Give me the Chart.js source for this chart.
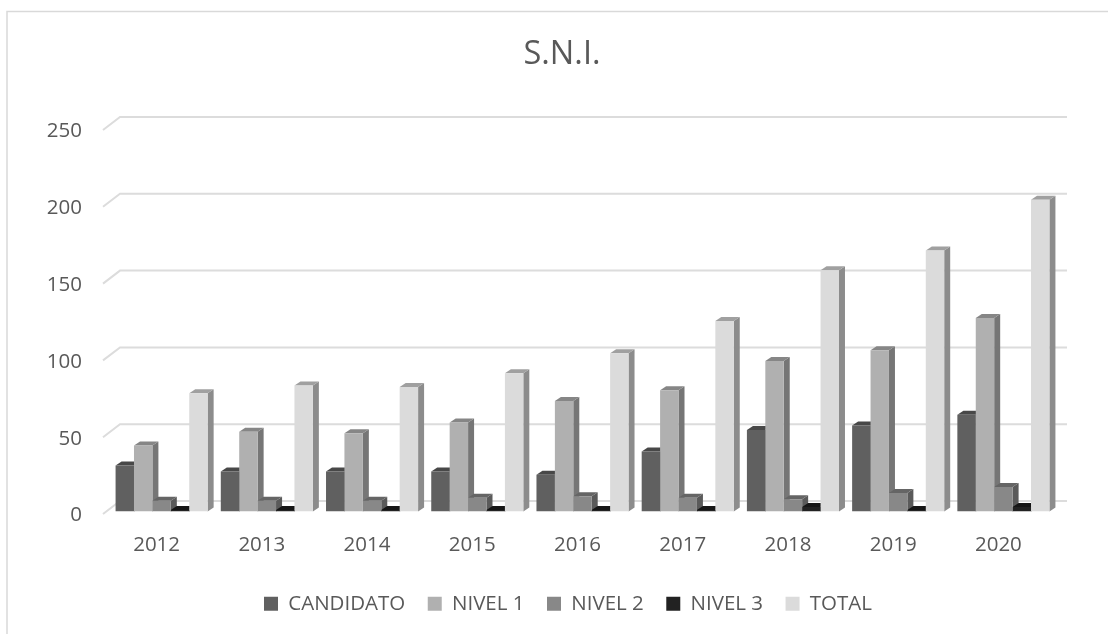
<!DOCTYPE html>
<html>
<head>
<meta charset="utf-8">
<title>S.N.I.</title>
<script src="https://cdn.jsdelivr.net/npm/chart.js@4"></script>
<style>
  html, body { margin: 0; padding: 0; background: #fff; }
  #wrap { position: absolute; left: 0; top: 0; width: 1108px; height: 634px; }
</style>
</head>
<body>
<div id="wrap"><canvas id="sniChart" width="1108" height="634"></canvas></div>
<script>
const years = ['2012', '2013', '2014', '2015', '2016', '2017', '2018', '2019', '2020'];
const candidato = [30, 26, 26, 26, 24, 39, 53, 56, 63];
const nivel1 = [43, 52, 51, 58, 72, 79, 98, 105, 126];
const nivel2 = [7, 7, 7, 9, 10, 9, 8, 12, 16];
const nivel3 = [1, 1, 1, 1, 1, 1, 3, 1, 3];
const total = [77, 82, 81, 90, 103, 124, 157, 170, 203];

// fake 3d: depth of the bars and of the back wall
const barDX = 6, barDY = 4;
const wallDX = 17, wallDY = 10.5;

const faces = {
  '#606060': { top: '#484848', side: '#484848' },
  '#b0b0b0': { top: '#868686', side: '#767676' },
  '#888888': { top: '#656565', side: '#5a5a5a' },
  '#222222': { top: '#161616', side: '#161616' },
  '#dbdbdb': { top: '#a0a0a0', side: '#8c8c8c' }
};

function poly(ctx, pts, color) {
  ctx.fillStyle = color;
  ctx.beginPath();
  pts.forEach((p, i) => i ? ctx.lineTo(p[0], p[1]) : ctx.moveTo(p[0], p[1]));
  ctx.closePath();
  ctx.fill();
}

const frame = {
  id: 'frame',
  beforeDraw(chart) {
    const ctx = chart.ctx;
    ctx.save();
    ctx.strokeStyle = '#d9d9d9';
    ctx.lineWidth = 1.5;
    ctx.beginPath();
    ctx.moveTo(7, 634);
    ctx.lineTo(7, 11.5);
    ctx.lineTo(1108, 11.5);
    ctx.stroke();
    ctx.restore();
  }
};

// title sits a little left of the legend in the original
const titleShift = {
  id: 'titleShift',
  afterLayout(chart) {
    chart.titleBlock.left -= 12;
  }
};

// wall gridlines with the diagonal going from the front edge to the back
const wallGrid = {
  id: 'wallGrid',
  beforeDatasetsDraw(chart) {
    const ctx = chart.ctx, y = chart.scales.y, left = chart.chartArea.left - 6;
    ctx.save();
    ctx.strokeStyle = '#dcdcdc';
    ctx.lineWidth = 2;
    y.ticks.forEach(t => {
      const py = y.getPixelForValue(t.value);
      ctx.beginPath();
      ctx.moveTo(left, py + 2.5);
      ctx.lineTo(left + wallDX, py - wallDY);
      ctx.lineTo(1067, py - wallDY);
      ctx.stroke();
    });
    ctx.restore();
  }
};

// top and side face of every bar, behind the fronts drawn by the library
const barFaces = {
  id: 'barFaces',
  beforeDatasetsDraw(chart) {
    const ctx = chart.ctx;
    chart.data.datasets.forEach((ds, i) => {
      chart.getDatasetMeta(i).data.forEach(bar => {
        const l = bar.x - bar.width / 2, r = bar.x + bar.width / 2;
        const c = faces[ds.backgroundColor];
        poly(ctx, [[r, bar.y], [r + barDX, bar.y - barDY], [r + barDX, bar.base - barDY], [r, bar.base]], c.side);
        poly(ctx, [[l, bar.y], [l + barDX, bar.y - barDY], [r + barDX, bar.y - barDY], [r, bar.y]], c.top);
      });
    });
  }
};

new Chart(document.getElementById('sniChart'), {
  type: 'bar',
  data: {
    labels: years,
    datasets: [
      { label: 'CANDIDATO', data: candidato, backgroundColor: '#606060' },
      { label: 'NIVEL 1', data: nivel1, backgroundColor: '#b0b0b0' },
      { label: 'NIVEL 2', data: nivel2, backgroundColor: '#888888' },
      { label: 'NIVEL 3', data: nivel3, backgroundColor: '#222222' },
      { label: 'TOTAL', data: total, backgroundColor: '#dbdbdb' }
    ]
  },
  options: {
    responsive: false,
    animation: false,
    layout: { padding: { left: 44, right: 16, top: 0, bottom: 10 } },
    datasets: { bar: { categoryPercentage: 0.875, barPercentage: 1 } },
    scales: {
      x: {
        afterFit(s) { s.height = 59.5; },
        grid: { display: false },
        border: { display: false },
        ticks: {
          color: '#595959', font: { family: 'Open Sans', size: 20.5 },
          labelOffset: -5, padding: 13, maxRotation: 0
        }
      },
      y: {
        min: 0, max: 250,
        afterFit(s) { s.width = 65; },
        grid: { display: false },
        border: { display: false },
        ticks: { stepSize: 50, color: '#595959', font: { family: 'Open Sans', size: 20.5 }, padding: 19, labelOffset: 4 }
      },
      // empty axis on the right, keeps title and legend centred like the original
      spacer: {
        position: 'right',
        afterFit(s) { s.width = 36; },
        grid: { display: false },
        border: { display: false },
        ticks: { display: false }
      }
    },
    plugins: {
      tooltip: { enabled: false },
      title: {
        display: true, text: 'S.N.I.', color: '#595959',
        font: { family: 'Open Sans', size: 32.5, weight: 'normal' },
        padding: { top: 35.5, bottom: 53 }
      },
      legend: {
        position: 'bottom',
        labels: {
          color: '#595959', font: { family: 'Open Sans', size: 20.5 },
          boxWidth: 14, boxHeight: 14, padding: 22.5
        }
      }
    }
  },
  plugins: [frame, titleShift, wallGrid, barFaces]
});
</script>
</body>
</html>
